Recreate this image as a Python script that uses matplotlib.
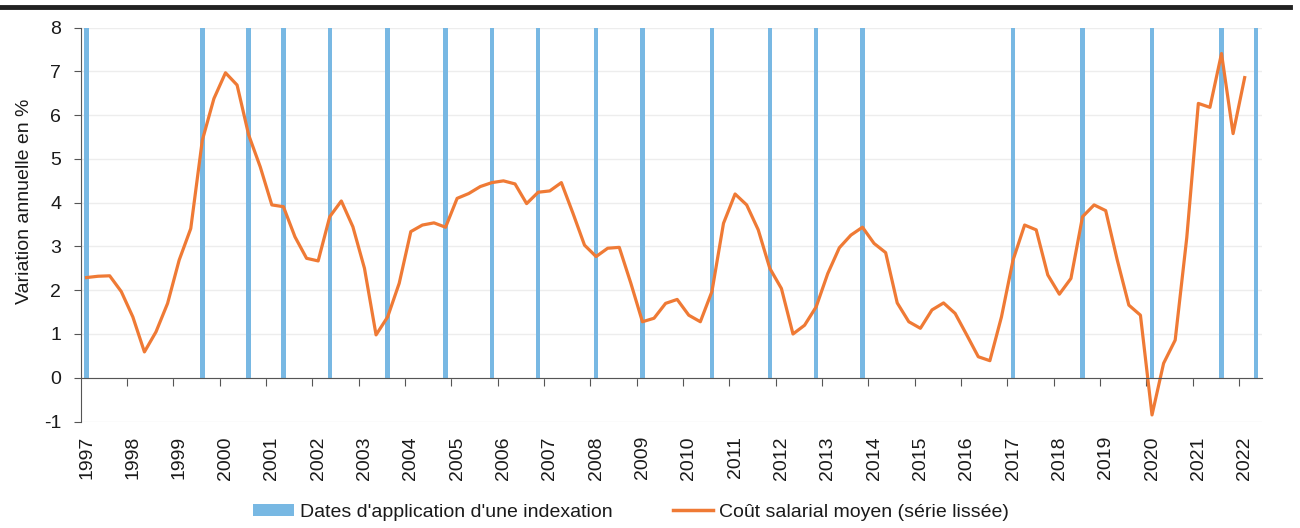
import numpy as np
from matplotlib import pyplot as plt
from matplotlib.lines import Line2D
from matplotlib.patches import Patch

# trimestres 1997T1 .. 2022T2 (axe par categories, comme dans Excel)
years = list(range(1997, 2023))
quarters = ['%dQ%d' % (y, q) for y in years for q in range(1, 5)][:102]

# cout salarial moyen, variation annuelle en % (serie lissee), 1997Q1 .. 2022Q1
cout_salarial = [
    2.29, 2.32, 2.33, 1.97, 1.39, 0.59, 1.05, 1.70, 2.69, 3.41, 5.43, 6.38, 6.97, 6.69, 5.55, 4.82, 3.95, 3.91, 3.22, 2.73, 2.67,
    3.68, 4.04, 3.45, 2.50, 0.98, 1.39, 2.16, 3.34, 3.49, 3.54, 3.44, 4.10, 4.21, 4.37, 4.46, 4.50, 4.43, 3.98, 4.24, 4.27, 4.46,
    3.76, 3.03, 2.77, 2.96, 2.98, 2.16, 1.28, 1.36, 1.70, 1.79, 1.43, 1.28, 1.97, 3.53, 4.20, 3.95, 3.38, 2.50, 2.04, 1.00, 1.20,
    1.62, 2.38, 2.97, 3.26, 3.44, 3.07, 2.86, 1.71, 1.28, 1.13, 1.55, 1.71, 1.47, 0.98, 0.48, 0.39, 1.39, 2.69, 3.49, 3.38,
    2.35, 1.91, 2.27, 3.68, 3.95, 3.82, 2.69, 1.66, 1.43, -0.85, 0.33, 0.86, 3.20, 6.27, 6.18, 7.41, 5.58, 6.86,
]

# trimestres d'application d'une indexation
indexations = ['1997Q1', '1999Q3', '2000Q3', '2001Q2', '2002Q2', '2003Q3', '2004Q4', '2005Q4',
               '2006Q4', '2008Q1', '2009Q1', '2010Q3', '2011Q4', '2012Q4', '2013Q4', '2017Q1',
               '2018Q3', '2020Q1', '2021Q3', '2022Q2']
bar_height = 8

yticks = list(range(-1, 9))

BLUE = '#78b8e3'
ORANGE = '#ef7a35'
TXT = '#1a1a1a'
AXC = '#555555'

plt.rcParams['font.family'] = ['Liberation Sans', 'DejaVu Sans']
plt.rcParams['axes.unicode_minus'] = False

fig = plt.figure(figsize=(13, 5.28), dpi=100)
ax = fig.add_axes([0.0621, 0.2017, 0.9087, 0.7458])

x = np.arange(len(quarters))
idx = [quarters.index(q) for q in indexations]
ax.bar(idx, [bar_height] * len(idx), width=0.38, color=BLUE, zorder=2)
ax.plot(x[:len(cout_salarial)], cout_salarial, color=ORANGE, linewidth=2.3, zorder=3)

ax.set_xlim(-0.5, len(quarters) - 0.5)
ax.set_ylim(-1, 8)
ax.set_yticks(yticks)
ax.grid(axis='y', color='#ededed', linewidth=1, zorder=0)

for s in ['top', 'right']:
    ax.spines[s].set_visible(False)
ax.spines['left'].set_color(AXC)
ax.spines['bottom'].set_color(AXC)
ax.spines['bottom'].set_position(('data', 0))
ax.spines['bottom'].set_zorder(4)

# ticks aux limites d'annees, etiquettes au 1er trimestre
ax.set_xticks(np.arange(3.5, len(quarters) - 1, 4))
ax.set_xticklabels([])
ax.set_xticks(np.arange(0, len(quarters), 4), minor=True)
ax.set_xticklabels([str(y) for y in years], minor=True, rotation=90, fontsize=14, color=TXT)
ax.tick_params(axis='x', which='major', length=6, color=AXC, direction='out')
ax.tick_params(axis='x', which='minor', length=0, pad=42)
ax.tick_params(axis='y', length=5, color=AXC, labelsize=14, labelcolor=TXT, pad=9)

ax.set_ylabel('Variation annuelle en %', fontsize=14, color=TXT)
ax.yaxis.set_label_coords(-0.040, 0.56)

# trait noir en haut
fig.add_artist(Line2D([0, 0.992], [0.987, 0.987], color='#222222', linewidth=3.5))

handles = [Patch(facecolor=BLUE, edgecolor='none'),
           Line2D([], [], color=ORANGE, linewidth=2.5)]
labels = ["Dates d'application d'une indexation", 'Coût salarial moyen (série lissée)']
fig.legend(handles, labels, loc='center', bbox_to_anchor=(0.4854, 0.030), ncol=2,
           frameon=False, handlelength=2.1, handleheight=0.55, handletextpad=0.3,
           columnspacing=3.1, prop={'size': 14}, labelcolor=TXT)

fig.savefig('out.png', dpi=100)
